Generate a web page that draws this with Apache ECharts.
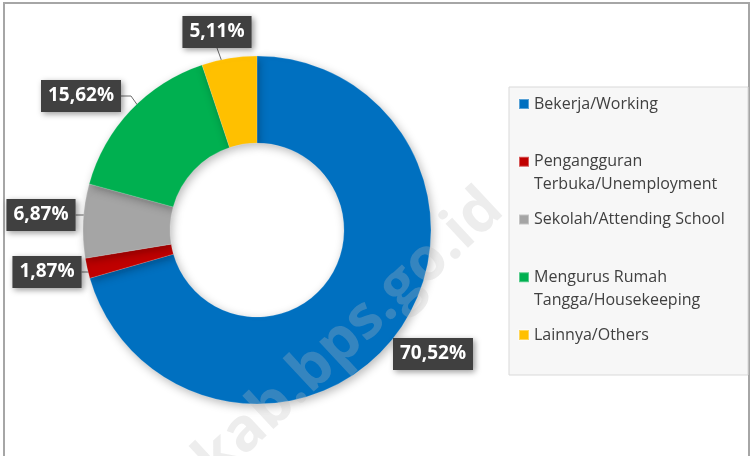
<!DOCTYPE html>
<html>
<head>
<meta charset="utf-8">
<script src="https://cdn.jsdelivr.net/npm/echarts@6/dist/echarts.min.js"></script>
<style>
  html, body { margin: 0; padding: 0; background: #fff; }
  #main { width: 752px; height: 456px; }
</style>
</head>
<body>
<div id="main"></div>
<script>
const categories = ['Bekerja/Working', 'Pengangguran Terbuka/Unemployment', 'Sekolah/Attending School', 'Mengurus Rumah Tangga/Housekeeping', 'Lainnya/Others'];
const legendLines = ['Bekerja/Working', 'Pengangguran\nTerbuka/Unemployment', 'Sekolah/Attending School', 'Mengurus Rumah\nTangga/Housekeeping', 'Lainnya/Others'];
const values = [70.52, 1.87, 6.87, 15.62, 5.11];
const colors = ['#0070C0', '#C00000', '#A5A5A5', '#00B050', '#FFC000'];

// centre of each dark label box (px)
const labelSpots = [[433, 354], [47, 272], [41, 215], [81, 96], [217, 32]];

const CX = 257, CY = 230, R0 = 87, R1 = 174;
const total = values.reduce((a, b) => a + b, 0);
const chart = echarts.init(document.getElementById('main'));

// point in the middle of the ring at the slice's mid angle (leader line end)
function anchor(i) {
  let before = 0;
  for (let k = 0; k < i; k++) before += values[k];
  const a = (90 - 360 * (before + values[i] / 2) / total) * Math.PI / 180;
  const r = (R0 + R1) / 2;
  return [CX + r * Math.cos(a), CY - r * Math.sin(a)];
}

// one legend per entry so every entry starts on an even slot, marker on first line
const legends = categories.map((name, i) => {
  const twoLines = legendLines[i].indexOf('\n') >= 0;
  const firstLineY = 104 + 57.75 * i;
  return {
    data: [name],
    orient: 'vertical',
    left: 518,
    top: firstLineY - (twoLines ? 34.5 : 11.5),
    padding: 0,
    icon: 'rect',
    itemWidth: 10,
    itemHeight: 10,
    selectedMode: false,
    formatter: () => (twoLines ? '\n' : '') + legendLines[i],
    textStyle: { fontFamily: 'Open Sans', fontSize: 16, color: '#404040', lineHeight: 23 }
  };
});

chart.setOption({
  animation: false,
  legend: legends,
  graphic: [
    { type: 'rect', z: -10, silent: true, shape: { x: 4, y: 3, width: 745, height: 480 },
      style: { fill: 'none', stroke: '#a6a6a6', lineWidth: 2 } },
    { type: 'rect', z: -10, silent: true, shape: { x: 509, y: 87, width: 239, height: 288 },
      style: { fill: '#f7f7f7', stroke: '#d9d9d9', lineWidth: 1 } },
    { type: 'text', z: 100, silent: true, x: 494, y: 200, rotation: 43 * Math.PI / 180,
      style: { text: 'kab.bps.go.id', fontSize: 60, fontWeight: 'bold', fontFamily: 'Open Sans',
        fill: 'rgba(190,190,190,0.28)', align: 'right', verticalAlign: 'middle' } }
  ],
  series: [{
    type: 'pie',
    center: [CX, CY],
    radius: [R0, R1],
    startAngle: 90,
    clockwise: true,
    avoidLabelOverlap: false,
    silent: true,
    data: categories.map((name, i) => ({
      name: name,
      value: values[i],
      itemStyle: { color: colors[i] },
      labelLine: { show: i !== 0 }
    })),
    itemStyle: {
      borderColor: 'rgba(255,255,255,0.35)',
      borderWidth: 0.5,
      shadowBlur: 10,
      shadowColor: 'rgba(0,0,0,0.28)',
      shadowOffsetX: 2,
      shadowOffsetY: 3
    },
    label: {
      show: true,
      position: 'outside',
      formatter: p => p.value.toFixed(2).replace('.', ',') + '%',
      color: '#fff',
      fontFamily: 'Open Sans',
      fontWeight: 'bold',
      fontSize: 19,
      backgroundColor: '#404040',
      padding: [7, 7, 6, 7],
      shadowBlur: 6,
      shadowColor: 'rgba(0,0,0,0.4)',
      shadowOffsetX: 2,
      shadowOffsetY: 2
    },
    labelLine: { show: true, lineStyle: { color: '#6b6b6b', width: 1 } },
    labelLayout: p => {
      const i = p.dataIndex;
      const x = labelSpots[i][0], y = labelSpots[i][1];
      const w = p.labelRect.width, h = p.labelRect.height;
      const out = { x: x, y: y, align: 'center', verticalAlign: 'middle' };
      if (i === 0) return out;
      const a = anchor(i);
      if (Math.abs(a[0] - x) < w / 2) {
        out.labelLinePoints = [a, [x, y + h / 2]];
      } else {
        const ex = x + w / 2;
        out.labelLinePoints = [a, [ex + 10, y], [ex, y]];
      }
      return out;
    }
  }]
});
</script>
</body>
</html>
